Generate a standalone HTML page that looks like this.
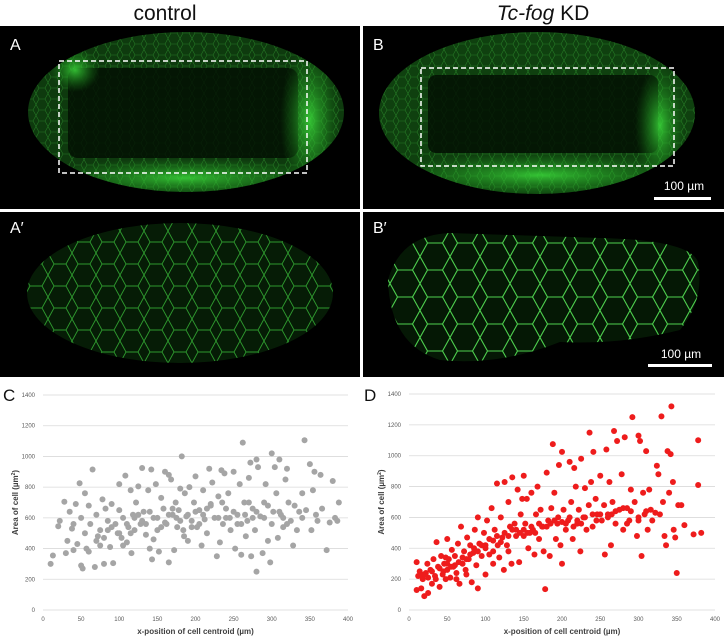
<!DOCTYPE html>
<html><head><meta charset="utf-8">
<style>
html,body{margin:0;padding:0;background:#fff;width:724px;height:640px;overflow:hidden;font-family:"Liberation Sans",sans-serif}
svg{position:absolute;left:0;top:0}
</style></head>
<body>
<svg id="fig" width="724" height="640" viewBox="0 0 724 640">
<defs>
 <pattern id="cellsS" width="12" height="11" patternUnits="userSpaceOnUse">
  <path d="M0 5.5 L3 0 L9 0 L12 5.5 L9 11 L3 11 Z" fill="none" stroke="#3fbf3f" stroke-width="0.6" stroke-opacity="0.45"/>
 </pattern>
 <pattern id="cellsL" width="24" height="22" patternUnits="userSpaceOnUse">
  <path d="M0 11 L6 0 L18 0 L24 11 L18 22 L6 22 Z" fill="none" stroke="#3fcf3f" stroke-width="0.9" stroke-opacity="0.7"/>
 </pattern>
 <pattern id="cellsL2" width="30" height="27" patternUnits="userSpaceOnUse">
  <path d="M0 13.5 L7.5 0 L22.5 0 L30 13.5 L22.5 27 L7.5 27 Z" fill="none" stroke="#5af05a" stroke-width="1.1" stroke-opacity="0.85"/>
 </pattern>
 <radialGradient id="glow"><stop offset="0" stop-color="#3ad83a" stop-opacity="0.85"/><stop offset="1" stop-color="#1a8a1a" stop-opacity="0"/></radialGradient>
 <clipPath id="clipA"><ellipse cx="186" cy="112" rx="158" ry="80"/></clipPath>
 <clipPath id="clipB"><ellipse cx="537" cy="113" rx="158" ry="81"/></clipPath>
 <clipPath id="clipA2"><ellipse cx="180" cy="293" rx="153" ry="70"/></clipPath>
 <clipPath id="clipB2"><path d="M388 280 Q400 235 450 233 L600 238 Q690 240 698 262 Q705 300 680 330 Q620 345 560 342 Q500 366 440 360 Q390 345 388 280 Z"/></clipPath>
</defs>

<text x="165" y="20" font-size="21" text-anchor="middle" fill="#111">control</text>
<text x="543" y="20" font-size="21" text-anchor="middle" fill="#111"><tspan font-style="italic">Tc-fog</tspan> KD</text>

<g>
 <rect x="0" y="26" width="360" height="183" fill="#000"/>
 <g clip-path="url(#clipA)">
  <rect x="20" y="30" width="330" height="170" fill="#0e3a0e"/>
  <rect x="20" y="30" width="330" height="170" fill="url(#cellsS)"/>
  <rect x="68" y="68" width="230" height="90" rx="10" fill="#021002" opacity="0.85"/>
  <ellipse cx="185" cy="178" rx="150" ry="20" fill="url(#glow)"/>
  <ellipse cx="310" cy="120" rx="30" ry="75" fill="url(#glow)"/>
  <ellipse cx="75" cy="70" rx="25" ry="22" fill="url(#glow)"/>
 </g>
 <rect x="59" y="61" width="248" height="112" fill="none" stroke="#fff" stroke-width="1.5" stroke-dasharray="5,3"/>
 <text x="10" y="50" font-size="16" fill="#fff">A</text>
</g>

<g>
 <rect x="363" y="26" width="361" height="183" fill="#000"/>
 <g clip-path="url(#clipB)">
  <rect x="370" y="30" width="340" height="170" fill="#0f400f"/>
  <rect x="370" y="30" width="340" height="170" fill="url(#cellsS)"/>
  <rect x="428" y="75" width="230" height="78" rx="8" fill="#021002" opacity="0.85"/>
  <ellipse cx="540" cy="175" rx="160" ry="22" fill="url(#glow)"/>
  <ellipse cx="660" cy="125" rx="25" ry="60" fill="url(#glow)"/>
 </g>
 <rect x="421" y="68" width="253" height="98" fill="none" stroke="#fff" stroke-width="1.5" stroke-dasharray="5,3"/>
 <text x="373" y="50" font-size="16" fill="#fff">B</text>
 <text x="684" y="190" font-size="12" fill="#fff" text-anchor="middle">100 µm</text>
 <rect x="654" y="197" width="57" height="3" fill="#fff"/>
</g>

<g>
 <rect x="0" y="212" width="360" height="165" fill="#000"/>
 <g clip-path="url(#clipA2)">
  <rect x="20" y="215" width="330" height="160" fill="#061c06"/>
  <rect x="20" y="215" width="330" height="160" fill="url(#cellsL)"/>
 </g>
 <text x="10" y="233" font-size="16" fill="#fff">A′</text>
</g>

<g>
 <rect x="363" y="212" width="361" height="165" fill="#000"/>
 <g clip-path="url(#clipB2)">
  <rect x="380" y="225" width="330" height="145" fill="#051805"/>
  <rect x="380" y="225" width="330" height="145" fill="url(#cellsL2)"/>
 </g>
 <text x="373" y="233" font-size="16" fill="#fff">B′</text>
 <text x="681" y="358" font-size="12" fill="#fff" text-anchor="middle">100 µm</text>
 <rect x="648" y="364" width="64" height="3" fill="#fff"/>
</g>

<g id="chartC"></g>
<g id="chartD"></g>
</svg>

<script>
const xTicks = [0,50,100,150,200,250,300,350,400];
const yTicks = [0,200,400,600,800,1000,1200,1400];

const controlX = [10,13,20,22,28,30,32,35,38,40,43,45,48,50,50,52,55,57,60,62,65,68,70,72,75,78,80,82,85,88,90,92,95,98,100,100,103,105,108,110,112,115,116,118,120,122,125,128,130,132,135,138,140,142,143,145,148,150,152,155,158,160,162,165,165,168,170,172,174,176,178,180,182,184,186,188,190,192,195,198,200,202,205,208,210,212,215,218,220,222,225,228,230,232,234,236,238,240,243,246,250,252,255,258,260,262,264,266,268,270,272,273,275,278,280,280,282,285,288,290,292,295,298,300,302,304,306,308,310,312,315,318,320,322,325,328,330,333,336,340,343,345,350,352,354,356,358,360,364,366,372,376,380,383,386,388,
60,70,80,90,100,110,120,130,140,150,160,170,180,190,200,210,220,230,240,250,260,270,280,290,300,310,320,340,40,55,85,115,135,155,175,195,215,235,255,275,295,315,185,125,145,245,265,205,165,105,75];
const controlY = [300,355,545,580,705,370,450,640,530,390,690,430,825,290,600,270,760,400,680,560,915,280,620,480,420,720,300,660,520,410,690,305,560,500,820,650,470,600,875,440,540,780,370,620,520,700,805,560,925,640,490,780,400,915,330,600,820,520,380,730,660,900,560,310,880,850,620,390,700,540,650,790,1000,520,760,610,450,800,580,700,870,540,650,420,780,590,500,920,690,830,600,350,740,440,910,560,890,660,760,520,900,400,620,820,360,1090,700,480,580,860,960,350,660,520,250,980,930,610,370,700,820,450,310,1020,640,930,760,470,980,620,540,850,920,700,580,420,680,520,640,760,1105,650,950,520,780,900,620,580,880,660,390,570,840,600,580,700,
380,450,470,540,500,560,600,580,640,600,570,660,580,620,640,620,680,600,600,640,560,700,640,600,560,640,560,600,560,500,580,500,560,540,600,540,660,700,560,600,680,600,480,620,460,600,620,560,620,420,520];

const fogX = [10,10,12,14,16,18,20,22,24,25,28,30,32,34,36,38,40,42,44,46,48,50,50,52,54,56,58,60,62,64,66,68,70,72,74,76,78,80,82,84,86,88,90,90,92,95,98,100,100,102,105,108,110,112,115,116,118,120,122,124,125,128,130,132,134,135,138,140,142,144,146,148,150,150,152,154,156,158,160,162,164,166,168,170,172,174,176,178,180,182,184,186,188,190,192,194,196,198,200,200,202,205,208,210,212,214,216,218,220,222,224,225,228,230,232,235,236,238,240,241,244,246,250,252,255,256,258,260,262,264,266,268,270,272,275,278,280,282,285,288,290,292,295,298,300,300,302,304,306,308,310,312,314,316,318,322,324,326,328,330,332,334,336,338,340,342,343,345,346,348,350,352,356,360,372,378,378,382,
20,30,40,50,60,70,80,90,100,110,120,130,140,150,160,170,180,190,200,210,220,230,240,250,260,270,280,290,300,310,45,55,65,75,85,95,105,115,125,135,145,155,165,175,185,195,205,215,225,245,265,285,35,25,15,62,75,48,110,130];
const fogY = [310,130,220,250,140,200,90,240,300,110,260,170,330,220,440,280,150,350,230,300,200,460,260,330,210,390,280,350,240,430,170,540,300,380,260,470,330,420,180,370,520,290,140,600,430,350,500,230,420,580,460,660,380,520,820,420,340,600,470,260,830,420,700,540,300,860,560,480,780,310,620,720,870,480,560,720,400,500,760,520,360,620,800,460,650,540,380,135,890,580,350,660,1075,760,460,560,940,420,1025,300,650,520,580,960,700,460,920,800,560,650,380,980,600,790,520,680,1150,830,540,1025,720,620,870,580,680,360,1040,600,830,420,700,1160,560,1095,650,880,520,1120,660,580,780,1250,700,480,1130,580,1095,350,760,620,1030,520,780,650,580,630,935,880,620,1255,700,480,420,1030,760,1010,1320,830,520,470,240,680,680,550,490,1100,810,500,
230,250,270,300,290,340,360,380,400,450,440,480,520,520,540,560,540,580,570,600,580,600,620,620,620,640,660,640,600,640,250,280,310,330,400,420,360,480,500,520,500,500,500,540,560,600,560,540,560,580,620,560,200,210,230,200,230,340,300,380];

const NS = 'http://www.w3.org/2000/svg';
function mk(tag, attrs, parent){const e=document.createElementNS(NS,tag);for(const k in attrs)e.setAttribute(k,attrs[k]);parent.appendChild(e);return e;}

function drawChart(g, cfg, xs, ys){
  const sx = v => cfg.x0 + (v/400)*(cfg.x1-cfg.x0);
  const sy = v => cfg.y0 - (v/1400)*(cfg.y0-cfg.y1);
  yTicks.forEach(t=>{
    const ln = mk('line',{x1:sx(0),x2:sx(400),y1:sy(t),y2:sy(t),stroke:'#d9d9d9','stroke-width':0.8},g);
    
    
    const tx = mk('text',{x:sx(0)-8,y:sy(t)+2,'font-size':6,'text-anchor':'end',fill:'#595959'},g);
    tx.textContent=t;
    
    
  });
  xTicks.forEach(t=>{
    const tx = mk('text',{x:sx(t),y:sy(0)+11,'font-size':6,'text-anchor':'middle',fill:'#595959'},g);
    tx.textContent=t;
    
    
  });
  xs.forEach((x,i)=>{
    const c = mk('circle',{cx:sx(x),cy:sy(ys[i]),r:3,fill:cfg.color},g);
    
    
  });
  const xt = mk('text',{x:(sx(0)+sx(400))/2,y:cfg.y0+24,'font-size':8,'font-weight':'bold','text-anchor':'middle',fill:'#404040'},g);
  xt.textContent='x-position of cell centroid (µm)';
  
  
  const yt = mk('text',{x:0,y:0,'font-size':8,'font-weight':'bold','text-anchor':'middle',fill:'#404040',transform:`translate(${cfg.x0-25},${(cfg.y0+cfg.y1)/2}) rotate(-90)`},g);
  yt.innerHTML='Area of cell (µm<tspan dy="-3" font-size="5">2</tspan><tspan dy="3">)</tspan>';
  
  
  const lb = mk('text',{x:cfg.lx,y:cfg.ly,'font-size':17,fill:'#111'},g);
  lb.textContent=cfg.label;
  
  
}
drawChart(document.getElementById('chartC'),{x0:43,x1:348,y0:610,y1:395,color:'#a5a5a5',label:'C',lx:3,ly:401},controlX,controlY);
drawChart(document.getElementById('chartD'),{x0:409,x1:715,y0:610,y1:394,color:'#ee1c1c',label:'D',lx:364,ly:401},fogX,fogY);
</script>
</body></html>
